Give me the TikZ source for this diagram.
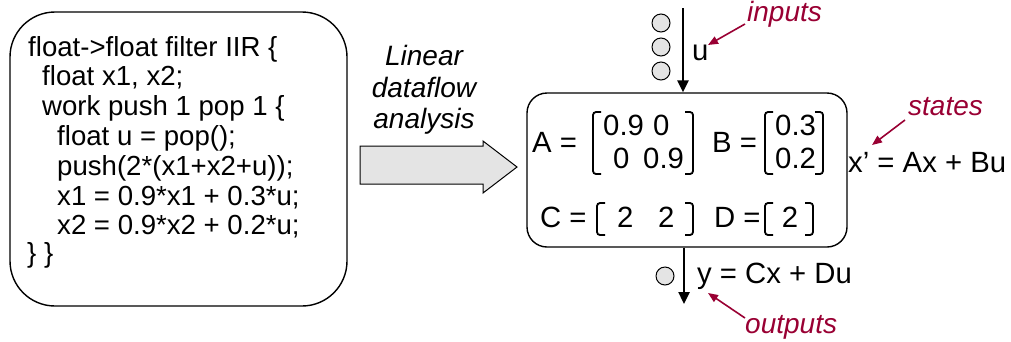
\documentclass[tikz,border=0pt]{standalone}
\usepackage{fontspec}
\setmainfont{Liberation Sans}
\usetikzlibrary{arrows.meta}
\definecolor{lblred}{RGB}{153,0,51}
\definecolor{dotgray}{RGB}{228,228,228}
\begin{document}
\begin{tikzpicture}[x=1pt,y=-1pt,
  txt/.style={anchor=base west,inner sep=0pt,font=\fontsize{27.6}{30}\selectfont},
  rtxt/.style={anchor=base west,inner sep=0pt,font=\fontsize{29.3}{30}\selectfont},
  ctxt/.style={anchor=base,inner sep=0pt,font=\fontsize{28}{30}\selectfont},
  lbl/.style={anchor=base west,inner sep=0pt,text=lblred,font=\fontsize{28}{30}\selectfont\itshape},
  box/.style={draw,line width=1.4pt,rectangle},
  flow/.style={line width=2.4pt,-{Triangle[width=11pt,length=12pt]}},
  redarrow/.style={draw=lblred,line width=1.6pt,-{Triangle[width=8pt,length=10pt]},lblred},
  dot/.style={circle,draw,line width=1pt,fill=dotgray,minimum size=18pt,inner sep=0pt},
  brk/.style={line width=1.8pt,rounded corners=3pt}]
\useasboundingbox (0,0) rectangle (1011,341);
% left code box
\node[box,rounded corners=45pt,minimum width=337pt,minimum height=294pt] (code) at (178.5,159) {};
\node[txt] (l1) at (28,56) {float->float filter IIR \{};
\node[txt] (l2) at (42,85.8) {float x1, x2;};
\node[txt] (l3) at (42,115.6) {work push 1 pop 1 \{};
\node[txt] (l4) at (57,145.4) {float u = pop();};
\node[txt] (l5) at (57,175.2) {push(2*(x1+x2+u));};
\node[txt] (l6) at (57,205) {x1 = 0.9*x1 + 0.3*u;};
\node[txt] (l7) at (57,234.8) {x2 = 0.9*x2 + 0.2*u;};
\node[txt] (l8) at (27,262) {\} \}};
% analysis arrow
\node[ctxt,font=\fontsize{28}{30}\selectfont\itshape] (t1) at (424,65) {Linear};
\node[ctxt,font=\fontsize{28}{30}\selectfont\itshape] (t2) at (424,97) {dataflow};
\node[ctxt,font=\fontsize{28}{30}\selectfont\itshape] (t3) at (424,128) {analysis};
\draw[line width=1pt,fill=dotgray] (360,146) -- (483,146) -- (483,141) -- (517,167) -- (483,193) -- (483,184) -- (360,184) -- cycle;
% right box
\node[box,rounded corners=20pt,minimum width=320pt,minimum height=154pt] (lin) at (687,170) {};
% A
\node[rtxt] (A) at (532,152) {A =};
\draw[brk] (601,112) -- (593,112) -- (593,174) -- (601,174);
\draw[brk] (685,112) -- (693,112) -- (693,174) -- (685,174);
\node[rtxt] (a11) at (603,135) {0.9};
\node[rtxt] (a12) at (653,135) {0};
\node[rtxt] (a21) at (613,168) {0};
\node[rtxt] (a22) at (643,168) {0.9};
% B
\node[rtxt] (B) at (712,152) {B =};
\draw[brk] (773,112) -- (765,112) -- (765,174) -- (773,174);
\draw[brk] (815,112) -- (823,112) -- (823,174) -- (815,174);
\node[rtxt] (b1) at (775,135) {0.3};
\node[rtxt] (b2) at (775,168) {0.2};
% C
\node[rtxt] (C) at (540,227) {C =};
\draw[brk] (605,203) -- (597,203) -- (597,235) -- (605,235);
\draw[brk] (685,203) -- (693,203) -- (693,235) -- (685,235);
\node[rtxt] (c1) at (617,227) {2};
\node[rtxt] (c2) at (658,227) {2};
% D
\node[rtxt] (D) at (714,227) {D =};
\draw[brk] (773,203) -- (765,203) -- (765,235) -- (773,235);
\draw[brk] (805,203) -- (813,203) -- (813,235) -- (805,235);
\node[rtxt,anchor=base] (d1) at (790,227) {2};
% input
\coordinate (inTop) at (683,8);
\draw[flow] (inTop) -- (inTop |- lin.north);
\node[dot] (i1) at (661,23) {};
\node[dot] (i2) at (661,47) {};
\node[dot] (i3) at (661,71) {};
\node[rtxt] (u) at (692,60) {u};
% output
\coordinate (outEnd) at (684,304);
\draw[flow] (outEnd |- lin.south) -- (outEnd);
\node[dot] (o1) at (665,276) {};
\node[rtxt] (yeq) at (697,283) {y = Cx + Du};
% state equation
\node[rtxt] (xeq) at (848,172) {x’ = Ax + Bu};
% labels
\node[lbl] (inputs) at (747,21) {inputs};
\coordinate (inTip) at (708,45);
\draw[redarrow] (745,24) -- (inTip);
\node[lbl] (states) at (908,115) {states};
\coordinate (stTip) at (872,145);
\draw[redarrow] (905,120) -- (stTip);
\node[lbl] (outputs) at (745,333) {outputs};
\coordinate (outTip) at (708,293);
\draw[redarrow] (745,318) -- (outTip);
\end{tikzpicture}
\end{document}
